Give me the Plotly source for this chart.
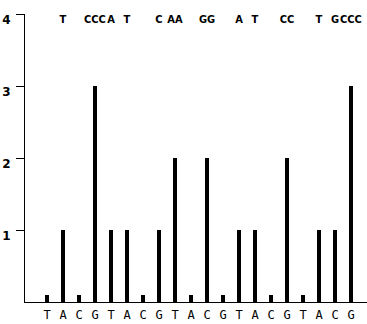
import plotly.graph_objects as go

# Base called at each position, the count of reads at that position,
# and the letters stacked above each position
bases = ["T", "A", "C", "G", "T", "A", "C", "G", "T", "A",
         "C", "G", "T", "A", "C", "G", "T", "A", "C", "G"]
counts = [0.1, 1, 0.1, 3, 1, 1, 0.1, 1, 2, 0.1,
          2, 0.1, 1, 1, 0.1, 2, 0.1, 1, 1, 3]
reads = ["", "T", "", "CCC", "A", "T", "", "C", "AA", "",
         "GG", "", "A", "T", "", "CC", "", "T", "G", "CCC"]
y_ticks = [1, 2, 3, 4]

positions = list(range(len(bases)))

fig = go.Figure()
fig.add_trace(go.Bar(
    x=positions, y=counts, width=0.25,
    marker=dict(color="black", line=dict(width=0)),
))
fig.add_trace(go.Scatter(
    x=positions, y=[3.92] * len(positions), mode="text", text=reads,
    textfont=dict(family="DejaVu Sans Condensed, DejaVu Sans", size=11,
                  color="black", weight="bold"),
    textposition="middle center",
))

fig.update_layout(
    width=367, height=324,
    margin=dict(l=25, r=0, t=14, b=22),
    paper_bgcolor="white", plot_bgcolor="white",
    showlegend=False,
    bargap=0,
    xaxis=dict(
        range=[-1.375, 20], tickvals=positions, ticktext=bases,
        showgrid=False, zeroline=False, showline=True, linecolor="black",
        linewidth=1, ticks="", ticklabelstandoff=2,
        tickfont=dict(family="DejaVu Sans Mono", size=12, color="black"),
        fixedrange=True,
    ),
    yaxis=dict(
        range=[0, 4], tickvals=y_ticks, ticktext=[str(v) for v in y_ticks],
        showgrid=False, zeroline=False, showline=True, linecolor="black",
        linewidth=1, ticks="outside", ticklen=8, tickcolor="black",
        ticklabelshift=6, ticklabelstandoff=3,
        tickfont=dict(family="DejaVu Sans", size=12, color="black", weight="bold"),
        fixedrange=True,
    ),
)

fig.write_html("out.html")
